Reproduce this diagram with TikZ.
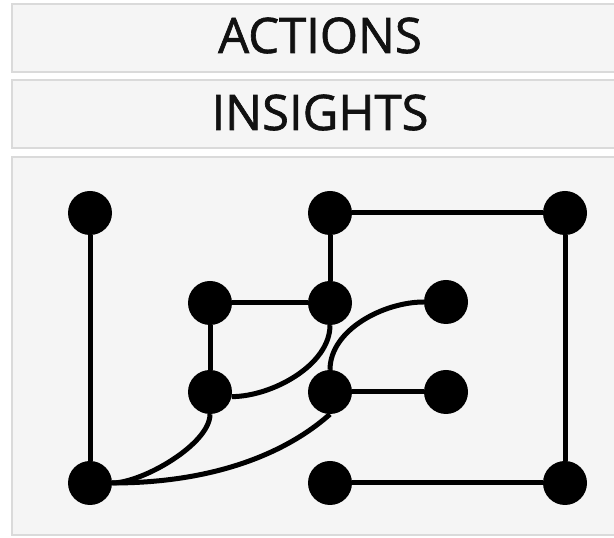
\documentclass[tikz,border=0pt]{standalone}
\usepackage{fontspec}
\setmainfont{Open Sans}
\newfontfamily\titlefont[FakeBold=1.3]{Open Sans}
\definecolor{boxfill}{HTML}{F5F5F5}
\definecolor{boxline}{HTML}{DADADA}
\definecolor{ink}{HTML}{111111}
\begin{document}
\begin{tikzpicture}[x=1pt,y=1pt,
  panel/.style={draw=boxline,line width=2.5pt,fill=boxfill},
  title/.style={anchor=base,inner sep=0pt,text=ink,font=\titlefont\fontsize{49}{55}\selectfont},
  dot/.style={circle,fill=black,minimum size=44pt,inner sep=0pt},
  link/.style={line width=5pt,black}]
\useasboundingbox (0,0) rectangle (614,538);
\clip (0,0) rectangle (614,538);
\fill[white] (0,0) rectangle (614,538);
% panels
\draw[panel] (12,466) rectangle (630,534);
\draw[panel] (12,390) rectangle (630,458);
\draw[panel] (12,3) rectangle (630,381);
\node[title] (actions) at (320,485) {ACTIONS};
\node[title] (insights) at (320,408) {INSIGHTS};
% nodes
\node[dot] (A) at (90,325) {};
\node[dot] (B) at (330,325) {};
\node[dot] (C) at (565,325) {};
\node[dot] (D) at (210,235) {};
\node[dot] (E) at (330,235) {};
\node[dot] (F) at (446,236) {};
\node[dot] (G) at (210,146) {};
\node[dot] (H) at (330,146) {};
\node[dot] (I) at (446,146) {};
\node[dot] (J) at (90,55) {};
\node[dot] (K) at (330,55) {};
\node[dot] (L) at (565,55) {};
% straight links
\draw[link] (A) -- (J);
\draw[link] (B) -- (C);
\draw[link] (B) -- (E);
\draw[link] (C) -- (L);
\draw[link] (D) -- (E);
\draw[link] (D) -- (G);
\draw[link] (H) -- (I);
\draw[link] (K) -- (L);
% curved links
\draw[link] (G.-12) .. controls +(40,0) and +(0,-40) .. (E.south);
\draw[link] (J.east) .. controls +(30,0) and +(0,-30) .. (G.south);
\draw[link] (J.east) .. controls +(100,0) and +(-45,-40) .. (H.south);
\draw[link] (H.north) .. controls +(0,40) and +(-40,0) .. (F.west);
\end{tikzpicture}
\end{document}
